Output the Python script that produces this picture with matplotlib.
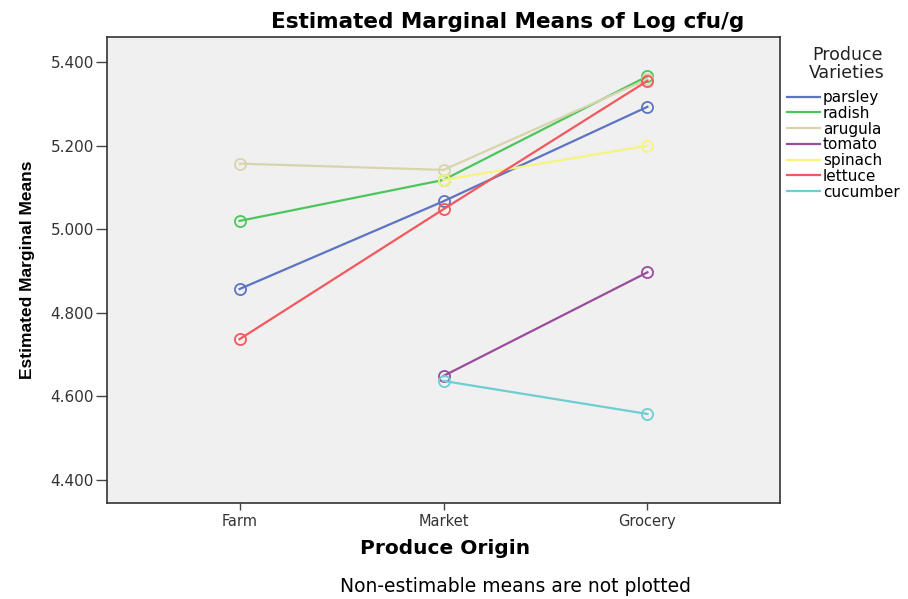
import matplotlib
matplotlib.use("Agg")
import matplotlib.pyplot as plt
from matplotlib.lines import Line2D
import numpy as np

plt.rcParams['font.family'] = ['DejaVu Sans']

origins = ["Farm", "Market", "Grocery"]
varieties = ["parsley", "radish", "arugula", "tomato", "spinach", "lettuce", "cucumber"]
parsley = [4.857, 5.067, 5.293]
radish = [5.020, 5.118, 5.366]
arugula = [5.157, 5.142, 5.359]
tomato = [None, 4.649, 4.897]
spinach = [None, 5.118, 5.200]
lettuce = [4.737, 5.048, 5.355]
cucumber = [None, 4.637, 4.558]
series = [parsley, radish, arugula, tomato, spinach, lettuce, cucumber]
colors = ["#5C74C2", "#4CC65C", "#D9D4AE", "#9A4C9C", "#F7F47E", "#F2585E", "#6DCFD2"]
yticks = [4.4, 4.6, 4.8, 5.0, 5.2, 5.4]

fig = plt.figure(figsize=(9.08, 5.99), dpi=100)
ax = fig.add_axes([107/908, (599-503)/599, (780-107)/908, (503-37)/599])
ax.set_facecolor("#F0F0F0")

x = np.arange(len(origins))
handles = []
for name, vals, c in zip(varieties, series, colors):
    xs = [xi for xi, v in zip(x, vals) if v is not None]
    ys = [v for v in vals if v is not None]
    ax.plot(xs, ys, color=c, lw=1.6, marker='o', ms=8, mfc='none', mec=c, mew=1.3, zorder=3)
    handles.append(Line2D([], [], color=c, lw=1.6, label=name))

ax.set_xlim(-0.65, 2.65)
ax.set_ylim(4.345, 5.46)
ax.set_xticks(x)
ax.set_xticklabels(origins, fontsize=10.5, color="#333333")
ax.set_yticks(yticks)
ax.set_yticklabels([f"{t:.3f}" for t in yticks], fontsize=11, color="#333333")
ax.tick_params(axis='y', direction='out', length=8, width=1, color="#444444", pad=1.5)
ax.tick_params(axis='x', direction='out', length=5, width=1, color="#444444", pad=3)
for s in ax.spines.values():
    s.set_color("#333333")
    s.set_linewidth(1.2)

fig.text(508/908, 1-22/599, "Estimated Marginal Means of Log cfu/g", ha='center', va='center',
         fontsize=15.5, fontweight='bold')
fig.text(445/908, 1-548/599, "Produce Origin", ha='center', va='center',
         fontsize=14.5, fontweight='bold')
fig.text(28/908, 1-270/599, "Estimated Marginal Means", ha='center', va='center', rotation=90,
         fontsize=12.5, fontweight='bold', family=['Liberation Sans', 'DejaVu Sans'])
fig.text(516/908, 1-586/599, "Non-estimable means are not plotted", ha='center', va='center', fontsize=13.5)
fig.text(847/908, 1-64/599, "Produce\nVarieties", ha='center', va='center', fontsize=12.5,
         linespacing=0.95, color="#222222")

leg = fig.legend(handles=handles, loc='upper left', bbox_to_anchor=(787/908, 1-90/599),
                 frameon=False, fontsize=11,
                 handlelength=2.15, handletextpad=0.2, labelspacing=0.05, borderaxespad=0,
                 borderpad=0)

fig.savefig("out.png", dpi=100)
